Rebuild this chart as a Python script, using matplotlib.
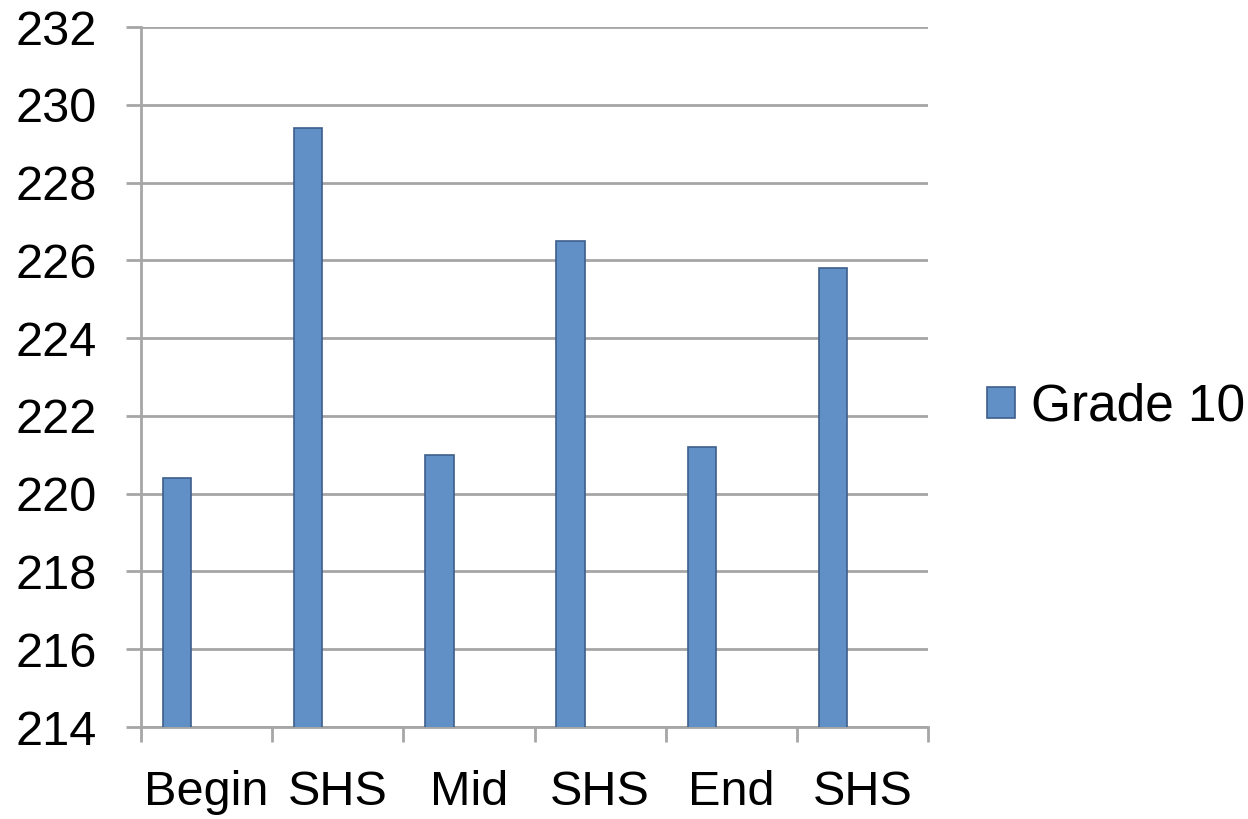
import matplotlib
matplotlib.use("Agg")
import matplotlib.pyplot as plt
import numpy as np

categories = ["Begin", "SHS", "Mid", "SHS", "End", "SHS"]
grade10 = [220.4, 229.4, 221.0, 226.5, 221.2, 225.8]
series_name = "Grade 10"

plt.rcParams["font.family"] = ["Liberation Sans", "DejaVu Sans"]

fig = plt.figure(figsize=(12.48, 8.19), dpi=100)
ax = fig.add_axes([0.113, 0.1123, 0.6306, 0.8547])

x = np.arange(len(categories))
grid_c = "#a6a6a6"

ax.bar(x - 0.225, grade10, width=0.217, bottom=0, color="#6090c6",
       edgecolor="#3e5f8a", linewidth=1.2, label=series_name, zorder=3)

ax.set_ylim(214, 232)
ax.set_xlim(-0.5, len(categories) - 0.5)
ax.set_yticks(np.arange(214, 233, 2))
ax.yaxis.grid(True, color=grid_c, linewidth=2, zorder=0)

ax.set_xticks(x)
ax.set_xticklabels(categories)
ax.set_xticks(np.arange(-0.5, len(categories)), minor=True)
ax.tick_params(axis="x", which="major", length=0, pad=31, labelsize=35)
ax.tick_params(axis="x", which="minor", length=11, width=2, color=grid_c)
ax.tick_params(axis="y", length=11, width=2, color=grid_c, pad=21, labelsize=35)

for s in ["top", "right"]:
    ax.spines[s].set_visible(False)
for s in ["left", "bottom"]:
    ax.spines[s].set_color(grid_c)
    ax.spines[s].set_linewidth(2)

ax.legend(loc="center left", bbox_to_anchor=(1.075, 0.457), frameon=False,
          fontsize=37, handlelength=0.55, handleheight=0.55, handletextpad=0.3,
          borderpad=0, borderaxespad=0)

fig.savefig("out.png", dpi=100, facecolor="white")
